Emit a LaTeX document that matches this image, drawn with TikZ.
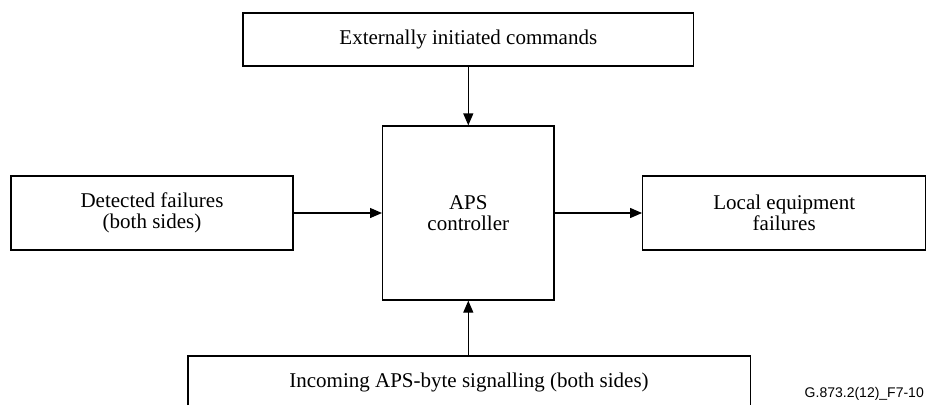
\documentclass[tikz,border=0pt]{standalone}
\usepackage{fontspec}
\setmainfont{Liberation Serif}
\newfontfamily\labelfont{Liberation Sans}
\usetikzlibrary{arrows.meta}
\begin{document}
\begin{tikzpicture}[x=1pt,y=-1pt,
  blk/.style={draw, line width=1.3pt, inner sep=0pt, align=center, font=\fontsize{21}{21.5}\selectfont},
  arr/.style={line width=1.3pt, -{Triangle[length=12pt,width=10pt]}}]
\useasboundingbox (0,0) rectangle (928,405);
\node[blk, minimum width=450.7pt, minimum height=53pt] (cmd) at (468.3,39.5) {Externally initiated commands};
\node[blk, minimum width=171.3pt, minimum height=174pt] (aps) at (468.3,213) {APS\\controller};
\node[blk, minimum width=282pt, minimum height=74pt] (det) at (152,213) {Detected failures\\(both sides)};
\node[blk, minimum width=283pt, minimum height=74pt] (loc) at (784.2,213) {Local equipment\\failures};
\coordinate (inctop) at (468.3,356);
\node[blk, draw=none, anchor=base] (inc) at (469,387) {Incoming APS-byte signalling (both sides)};
\draw[line width=1.3pt] (188,405) -- (188,356) -- (750.5,356) -- (750.5,405);
\node[anchor=base east, inner sep=0pt, font=\labelfont\fontsize{14}{15}\selectfont] (lbl) at (924,397) {G.873.2(12)\_F7-10};
\draw[arr] (cmd.south -| aps.north) -- (aps.north);
\draw[arr] (inctop) -- (aps.south);
\draw[arr] (det.east) -- (aps.west);
\draw[arr] (aps.east) -- (loc.west);
\end{tikzpicture}
\end{document}
